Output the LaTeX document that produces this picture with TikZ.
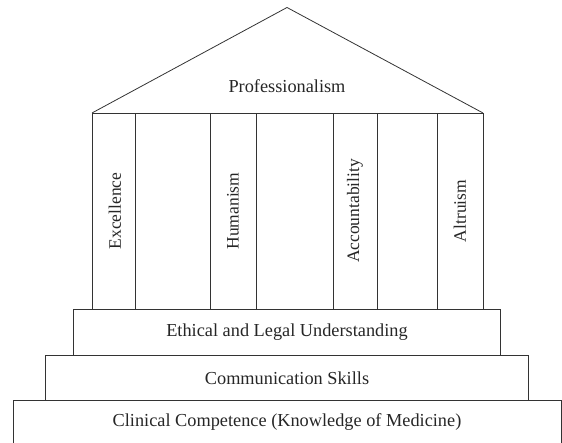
\documentclass[tikz,border=0pt]{standalone}
\usepackage{fontspec}
\setmainfont{Liberation Serif}
\usetikzlibrary{
    positioning
}

\begin{document}
\begin{tikzpicture}[
        x=1pt, y=1pt,
        node distance=0pt,
        every node/.style={font=\fontsize{18.3pt}{21pt}\selectfont, text=black!85},
        pillar/.style={
            rectangle,
            draw=black!80,
            line width=0.8pt,
            outer sep=0pt,
            inner sep=0pt,
            minimum height=196pt,
            anchor=south west
        },
        stepbox/.style={
            rectangle,
            draw=black!80,
            line width=0.8pt,
            outer sep=0pt,
            inner sep=0pt,
            minimum height=45.5pt,
            align=center
        },
        pillarlabel/.style={
            rotate=90,
            inner sep=0pt,
            font=\fontsize{17.5pt}{20pt}\selectfont
        },
        outline/.style={
            draw=black!80,
            line width=0.8pt
        }
    ]

    \useasboundingbox (0,0) rectangle (562,443);

    % steps
    \node[stepbox, minimum width=427.5pt, minimum height=46pt] (ethical) at (287,111)
        {Ethical and Legal Understanding};
    \node[stepbox, minimum width=482.5pt, below=of ethical] (communication)
        {Communication Skills};
    \node[stepbox, draw=none, minimum width=548pt, minimum height=43pt,
          below=of communication] (clinical)
        {Clinical Competence (Knowledge of Medicine)};
    \draw[outline] (clinical.south west) |- (clinical.north east) -- (clinical.south east);

    % pillars
    \node[pillar, minimum width=43pt] (excellence) at (92,134) {};
    \node[pillar, minimum width=75pt, right=of excellence] (gapone) {};
    \node[pillar, minimum width=46pt, right=of gapone] (humanism) {};
    \node[pillar, minimum width=77pt, right=of humanism] (gaptwo) {};
    \node[pillar, minimum width=44pt, right=of gaptwo] (accountability) {};
    \node[pillar, minimum width=60pt, right=of accountability] (gapthree) {};
    \node[pillar, minimum width=46pt, right=of gapthree] (altruism) {};

    \node[pillarlabel] (excellencetext) at ([xshift=1.5pt]excellence.center) {Excellence};
    \node[pillarlabel] (humanismtext) at (humanism.center) {Humanism};
    \node[pillarlabel] (accountabilitytext) at (accountability.center) {Accountability};
    \node[pillarlabel] (altruismtext) at (altruism.center) {Altruism};

    % roof
    \coordinate (apex) at (287,435.5);
    \draw[outline, line join=miter] (excellence.north west) -- (apex) -- (altruism.north east);
    \node (professionalism) at (287,357) {Professionalism};

\end{tikzpicture}
\end{document}
